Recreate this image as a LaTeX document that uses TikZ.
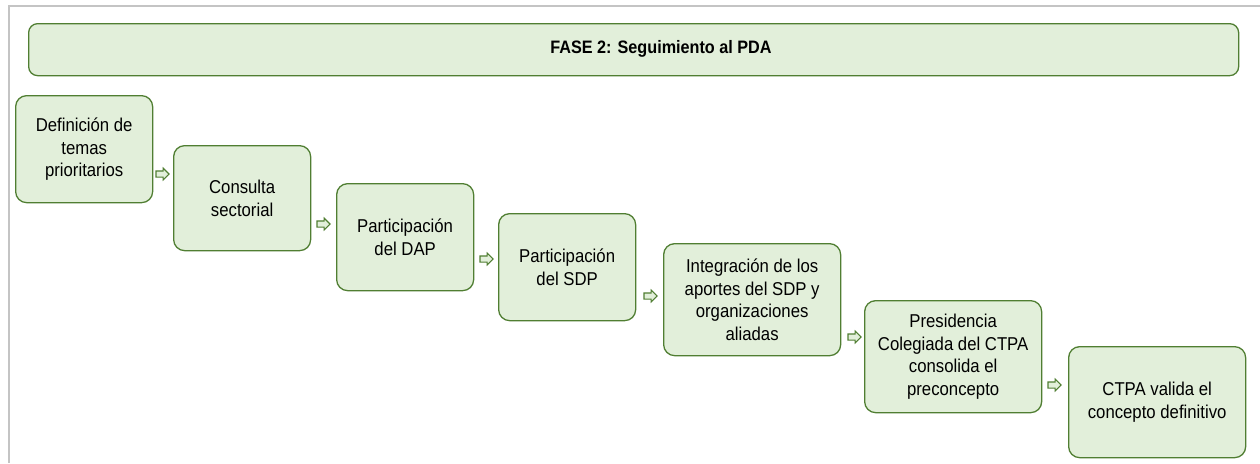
\documentclass[tikz,border=0pt]{standalone}
\usepackage{fontspec}
\setmainfont[FakeStretch=0.9]{Liberation Sans}
\usetikzlibrary{shapes.arrows}
\definecolor{gfill}{HTML}{E2EFDA}
\definecolor{gline}{HTML}{507E32}
\definecolor{framegray}{HTML}{C4C4C4}
\begin{document}
\begin{tikzpicture}[x=1pt,y=-1pt,
  stepbox/.style={draw=gline, fill=gfill, line width=1.3pt, rounded corners=11pt,
    anchor=north west, align=center, inner sep=2pt,
    font=\fontsize{18.6}{22.6}\selectfont},
  hdrbox/.style={draw=gline, fill=gfill, line width=1.3pt, rounded corners=9pt,
    anchor=north west, inner sep=0pt},
  arr/.style={single arrow, draw=gline, fill=gfill, line width=1.1pt,
    minimum height=13pt, inner sep=2.5pt, single arrow head extend=2.8pt}]
\useasboundingbox (0,0) rectangle (1260,463);
\draw[framegray, line width=2pt] (9,463) -- (9,6) -- (1260,6);
% header
\node[hdrbox, minimum width=1210, minimum height=52] (hdr) at (28,23) {};
\node[font=\bfseries\fontsize{18}{22}\selectfont, inner sep=0pt] (hdrtxt) at (661,49) {FASE 2: Seguimiento al PDA};
% steps
\node[stepbox, minimum width=137, minimum height=107] (b1) at (15,95) {Definición de\\temas\\prioritarios};
\node[stepbox, minimum width=137, minimum height=105] (b2) at (173,145) {Consulta\\sectorial};
\node[stepbox, minimum width=137, minimum height=107] (b3) at (336,183) {Participación\\del DAP};
\node[stepbox, minimum width=137, minimum height=107] (b4) at (498,213) {Participación\\del SDP};
\node[stepbox, minimum width=177, minimum height=112] (b5) at (663,243) {Integración de los\\aportes del SDP y\\organizaciones\\aliadas};
\node[stepbox, minimum width=177, minimum height=112] (b6) at (864,300) {Presidencia\\Colegiada del CTPA\\consolida el\\preconcepto};
\node[stepbox, minimum width=177, minimum height=111] (b7) at (1068,346) {CTPA valida el\\concepto definitivo};
% arrows
\node[arr] (a1) at (161,174) {};
\node[arr] (a2) at (322,224) {};
\node[arr] (a3) at (485,259) {};
\node[arr] (a4) at (649,296) {};
\node[arr] (a5) at (853,337) {};
\node[arr] (a6) at (1053,385) {};
\end{tikzpicture}
\end{document}
